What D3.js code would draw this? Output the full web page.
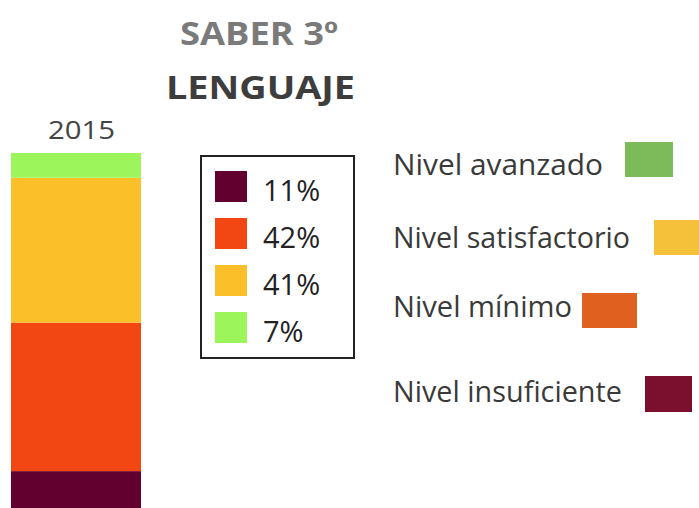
<!DOCTYPE html>
<html>
<head>
<meta charset="utf-8">
<script src="https://cdn.jsdelivr.net/npm/d3@7"></script>
<style>
  body { margin: 0; background: #fff; }
  svg { display: block; font-family: "Open Sans", sans-serif; }
</style>
</head>
<body>
<div class="chart"></div>
<script>
// data
const levels = ["Nivel insuficiente", "Nivel mínimo", "Nivel satisfactorio", "Nivel avanzado"];
const values2015 = [11, 42, 41, 7];
const barColors = ["#62002f", "#f24712", "#fbbf2a", "#9cf55a"];
const legendColors = ["#7a0f2e", "#e0611f", "#f5c03a", "#7cba5a"];
const year = "2015";

const width = 699;
const height = 508;

const svg = d3
  .select(".chart")
  .append("svg")
  .attr("width", width)
  .attr("height", height);

// stacked bar
const total = d3.sum(values2015);
const y = d3.scaleLinear().domain([0, total]).range([510, 153]);
const x = d3.scaleBand().domain([year]).range([11, 141]).padding(0);

let acc = 0;
const stack = values2015.map((v, i) => {
  const d = { level: levels[i], value: v, y0: acc, y1: acc + v, color: barColors[i] };
  acc += v;
  return d;
});

svg
  .append("g")
  .selectAll("rect")
  .data(stack)
  .enter()
  .append("rect")
  .attr("x", x(year))
  .attr("width", x.bandwidth())
  .attr("y", (d) => y(d.y1))
  .attr("height", (d) => y(d.y0) - y(d.y1))
  .attr("fill", (d) => d.color);

svg
  .append("text")
  .attr("x", 48)
  .attr("y", 139)
  .attr("font-size", 26)
  .attr("textLength", 67)
  .attr("lengthAdjust", "spacingAndGlyphs")
  .attr("fill", "#444")
  .text(year);

// title
svg
  .append("text")
  .attr("x", 180)
  .attr("y", 45)
  .attr("font-size", 32)
  .attr("font-weight", "bold")
  .attr("textLength", 158)
  .attr("lengthAdjust", "spacingAndGlyphs")
  .attr("fill", "#7a7a7a")
  .text("SABER 3º");

svg
  .append("text")
  .attr("x", 166)
  .attr("y", 99)
  .attr("font-size", 32)
  .attr("font-weight", "bold")
  .attr("textLength", 189)
  .attr("lengthAdjust", "spacingAndGlyphs")
  .attr("fill", "#3d3d3d")
  .text("LENGUAJE");

// percentage box
svg
  .append("rect")
  .attr("x", 201)
  .attr("y", 156)
  .attr("width", 153)
  .attr("height", 202)
  .attr("fill", "none")
  .attr("stroke", "#222")
  .attr("stroke-width", 2);

const boxRow = svg
  .append("g")
  .selectAll("g")
  .data(stack)
  .enter()
  .append("g")
  .attr("transform", (d, i) => `translate(215, ${171 + i * 47})`);

boxRow
  .append("rect")
  .attr("width", 32)
  .attr("height", 31)
  .attr("fill", (d) => d.color);

boxRow
  .append("text")
  .attr("x", 48)
  .attr("y", 30)
  .attr("font-size", 29)
  .attr("fill", "#222")
  .text((d) => `${d.value}%`);

// level legend, top to bottom
const legendRows = [
  { i: 3, ty: 175, tw: 210, sx: 625, sy: 142, sw: 48, sh: 35 },
  { i: 2, ty: 248, tw: 237, sx: 654, sy: 220, sw: 45, sh: 35 },
  { i: 1, ty: 317, tw: 179, sx: 582, sy: 293, sw: 55, sh: 35 },
  { i: 0, ty: 402, tw: 229, sx: 645, sy: 376, sw: 47, sh: 36 },
];

const lg = svg.append("g").selectAll("g").data(legendRows).enter().append("g");

lg.append("text")
  .attr("x", 393)
  .attr("y", (d) => d.ty)
  .attr("font-size", 29)
  .attr("textLength", (d) => d.tw)
  .attr("lengthAdjust", "spacingAndGlyphs")
  .attr("fill", "#3a3a3a")
  .text((d) => levels[d.i]);

lg.append("rect")
  .attr("x", (d) => d.sx)
  .attr("y", (d) => d.sy)
  .attr("width", (d) => d.sw)
  .attr("height", (d) => d.sh)
  .attr("fill", (d) => legendColors[d.i]);
</script>
</body>
</html>
